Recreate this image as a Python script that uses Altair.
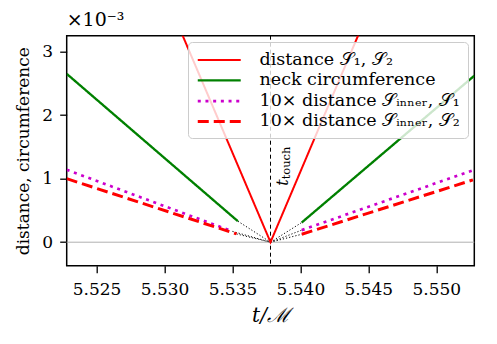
import altair as alt
import pandas as pd

t_touch = 5.5378

labels = [
    "distance 𝒮₁, 𝒮₂",
    "neck circumference",
    "10× distance 𝒮ᵢₙₙₑᵣ, 𝒮₁",
    "10× distance 𝒮ᵢₙₙₑᵣ, 𝒮₂",
]
colors = ["#ff0000", "#008000", "#cc00cc", "#ff0000"]
dashes = [[1, 0], [1, 0], [3, 4.7], [11, 5]]
widths = [2, 3, 3, 3]

# distance S1,S2 (units of 1e-3)
dist_t = [5.5310, 5.5378, 5.5446]
dist_v = [3.42, 0.0, 3.43]

# neck circumference
neck_l_t = [5.5228, 5.5354]
neck_l_v = [2.65, 0.33]
neck_r_t = [5.5401, 5.5528]
neck_r_v = [0.31, 2.62]

# 10x distance S_inner,S1
in1_l_t = [5.5228, 5.5350]
in1_l_v = [1.14, 0.17]
in1_r_t = [5.5401, 5.5528]
in1_r_v = [0.19, 1.14]

# 10x distance S_inner,S2
in2_l_t = [5.5228, 5.5353]
in2_l_v = [1.00, 0.13]
in2_r_t = [5.5401, 5.5527]
in2_r_v = [0.125, 0.98]

x_ticks = [5.525, 5.530, 5.535, 5.540, 5.545, 5.550]
y_ticks = [0, 1, 2, 3]
x_dom = [5.5228, 5.5528]
y_dom = [-0.37, 3.25]

FONT = "DejaVu Serif"

rows = []
def add(lbl, side, ts, vs):
    for t, v in zip(ts, vs):
        rows.append({"series": lbl, "seg": lbl + side, "t": t, "v": v})

add(labels[0], "a", dist_t, dist_v)
add(labels[1], "l", neck_l_t, neck_l_v)
add(labels[1], "r", neck_r_t, neck_r_v)
add(labels[2], "l", in1_l_t, in1_l_v)
add(labels[2], "r", in1_r_t, in1_r_v)
add(labels[3], "l", in2_l_t, in2_l_v)
add(labels[3], "r", in2_r_t, in2_r_v)
df = pd.DataFrame(rows)

# dotted connectors from segment ends to the touch point
conn = []
ends = [
    (neck_l_t[-1], neck_l_v[-1]), (neck_r_t[0], neck_r_v[0]),
    (in1_l_t[-1], in1_l_v[-1]), (in1_r_t[0], in1_r_v[0]),
    (in2_l_t[-1], in2_l_v[-1]), (in2_r_t[0], in2_r_v[0]),
]
for i, (t, v) in enumerate(ends):
    conn.append({"id": i, "t": t, "v": v})
    conn.append({"id": i, "t": t_touch, "v": 0.0})
cdf = pd.DataFrame(conn)

xs = alt.Scale(domain=x_dom, nice=False, zero=False)
ys = alt.Scale(domain=y_dom, nice=False, zero=False)

xax = alt.Axis(values=x_ticks, format=".3f", title="t/ℳ", grid=False,
               titleFontStyle="italic", titleFontSize=20, labelPadding=9, titlePadding=8)
yax = alt.Axis(values=y_ticks, format="d", title="distance, circumference", grid=False,
               labelPadding=7, titlePadding=9)

zero = alt.Chart(pd.DataFrame({"v": [0.0]})).mark_rule(color="#b0b0b0", strokeWidth=1).encode(
    y=alt.Y("v:Q", scale=ys, axis=yax)
)
vline = alt.Chart(pd.DataFrame({"t": [t_touch]})).mark_rule(
    color="black", strokeWidth=1, strokeDash=[4, 3]
).encode(x=alt.X("t:Q", scale=xs, axis=xax))

connectors = alt.Chart(cdf).mark_line(color="black", strokeWidth=1, strokeDash=[1.2, 2]).encode(
    x=alt.X("t:Q", scale=xs, axis=xax),
    y=alt.Y("v:Q", scale=ys, axis=yax),
    detail="id:N",
)

lines = alt.Chart(df).mark_line(clip=True, strokeCap="butt").encode(
    x=alt.X("t:Q", scale=xs, axis=xax),
    y=alt.Y("v:Q", scale=ys, axis=yax),
    detail="seg:N",
    color=alt.Color("series:N", scale=alt.Scale(domain=labels, range=colors),
                    legend=alt.Legend(title=None)),
    strokeDash=alt.StrokeDash("series:N", scale=alt.Scale(domain=labels, range=dashes),
                              legend=alt.Legend(title=None)),
    strokeWidth=alt.StrokeWidth("series:N", scale=alt.Scale(domain=labels, range=widths),
                                legend=alt.Legend(title=None)),
    order=alt.Order("t:Q"),
)

lab_df = pd.DataFrame({"t": [t_touch], "v": [0.887]})
lab_t = alt.Chart(lab_df).mark_text(
    text="t", angle=270, align="left", baseline="alphabetic", dy=17.5,
    font=FONT, fontStyle="italic", fontSize=16, color="black"
).encode(x=alt.X("t:Q", scale=xs, axis=xax), y=alt.Y("v:Q", scale=ys, axis=yax))
lab_sub = alt.Chart(lab_df).mark_text(
    text="touch", angle=270, align="left", baseline="alphabetic", dx=6.5, dy=19.5,
    font=FONT, fontSize=11.5, color="black"
).encode(x=alt.X("t:Q", scale=xs, axis=xax), y=alt.Y("v:Q", scale=ys, axis=yax))

chart = alt.layer(zero, vline, connectors, lines, lab_t, lab_sub).properties(
    width=407.6, height=230,
    title=alt.TitleParams("×10⁻³", anchor="start", frame="group", fontSize=19,
                          font=FONT, fontWeight="normal", offset=5, color="black"),
    autosize=alt.AutoSizeParams(type="none"),
    padding={"left": 66.7, "top": 35.7, "right": 22.7, "bottom": 78.3},
).configure_view(
    stroke="black", strokeWidth=1.5
).configure_title(
    font=FONT, fontSize=19, fontWeight="normal", color="black"
).configure_axis(
    domain=False, tickColor="black", tickWidth=1.3, tickSize=7,
    labelFont=FONT, labelFontSize=17, labelColor="black",
    titleFont=FONT, titleFontSize=17, titleColor="black",
    titleFontWeight="normal",
).configure_legend(
    orient="none", legendX=121.3, legendY=6.3,
    symbolType="M-1,0H3.914", symbolSize=306, labelFont=FONT, labelFontSize=17.5,
    labelColor="black", labelOffset=42.5, rowPadding=1.3, padding=8,
    fillColor="rgba(255,255,255,0.8)", strokeColor="#cccccc", cornerRadius=4,
    labelLimit=400,
)

chart.save("out.html", embed_options={"renderer": "svg", "actions": False})
